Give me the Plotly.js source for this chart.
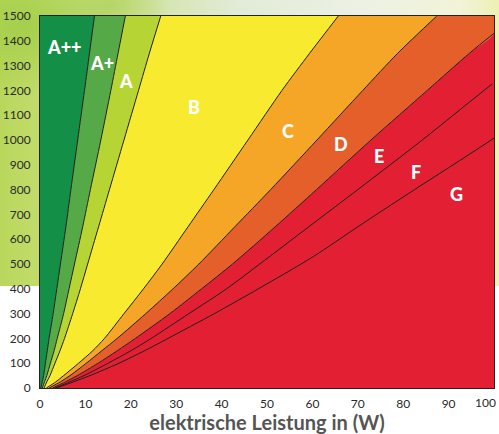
<!DOCTYPE html>
<html>
<head>
<meta charset="utf-8">
<script src="https://cdn.plot.ly/plotly-3.0.1.min.js"></script>
<style>
  html, body { margin: 0; padding: 0; background: #ffffff; }
  #wrap { position: relative; width: 499px; height: 434px; overflow: hidden; }
  #bg {
    position: absolute; left: 0; top: 0; width: 499px; height: 286px;
    background:
      radial-gradient(ellipse 90px 70px at 25px 25px, rgba(160,205,70,0.85), rgba(160,205,70,0)),
      radial-gradient(ellipse 60px 40px at 110px 5px, rgba(175,210,90,0.8), rgba(175,210,90,0)),
      linear-gradient(to right, #b9d75c 0px, #c2dc6a 40px, #d2e4a4 140px, #e2ebd8 240px, #ecf1e4 360px, #f2f3d8 460px, #eef0b4 499px);
  }
  #chart { position: absolute; left: 0; top: 0; width: 499px; height: 434px; }
</style>
</head>
<body>
<div id="wrap">
  <div id="bg"></div>
  <div id="chart"></div>
</div>
<script>
// Light output (lumen) levels at which the class boundaries were read
const lumen   = [0, 25, 50, 100, 150, 200, 300, 400, 500, 650, 800, 1000, 1200, 1350, 1500];
// Boundary A++ | A+  (W)
const bAppAp  = [0.2, 0.5, 0.8, 1.2, 1.6, 2.0, 2.9, 3.7, 4.5, 5.7, 6.8, 8.3, 9.8, 10.9, 12.0];
// Boundary A+ | A
const bApA    = [0.5, 1.0, 1.5, 2.3, 3.1, 3.8, 5.2, 6.4, 7.6, 9.4, 11.1, 13.4, 15.6, 17.2, 18.8];
// Boundary A | B
const bAB     = [0.9, 1.5, 2.2, 3.3, 4.4, 5.4, 7.2, 8.9, 10.5, 12.9, 15.3, 18.5, 21.7, 24.1, 26.6];
// Boundary B | C
const bBC     = [1.4, 3.5, 5.2, 8.5, 11.6, 14.2, 18.5, 22.8, 26.9, 32.6, 38.3, 45.8, 53.3, 59.4, 65.7];
// Boundary C | D
const bCD     = [2.0, 4.5, 6.6, 10.2, 13.6, 17.0, 23.3, 29.3, 35.0, 42.9, 50.8, 61.0, 71.1, 78.8, 87.4];
// Boundary D | E (ends at right edge)
const lumenDE = [0, 25, 50, 100, 150, 200, 300, 400, 500, 650, 800, 1000, 1200, 1350, 1430];
const bDE     = [2.8, 5.6, 8.2, 12.8, 17.0, 21.0, 28.6, 35.6, 42.4, 51.8, 60.9, 72.9, 85.3, 94.6, 100];
// Boundary E | F
const lumenEF = [0, 25, 50, 100, 150, 200, 300, 400, 500, 650, 800, 1000, 1150, 1226];
const bEF     = [3.3, 6.6, 9.7, 15.0, 20.0, 24.5, 32.8, 41.1, 48.4, 59.2, 70.0, 84.2, 94.4, 99.6];
// Boundary F | G
const lumenFG = [0, 25, 50, 100, 150, 200, 300, 400, 530, 650, 800, 900, 1007];
const bFG     = [3.6, 7.4, 11.0, 17.4, 23.0, 28.2, 38.4, 48.1, 60.2, 70.0, 82.5, 91.0, 100];

// Class labels
const classNames = ['A++', 'A+', 'A', 'B', 'C', 'D', 'E', 'F', 'G'];
const labelW     = [5.4, 13.6, 19.0, 33.9, 54.6, 66.4, 74.7, 82.9, 91.8];
const labelLm    = [1376, 1312, 1239, 1134, 1037, 984, 937, 872, 781];

// Tick labels
const xTicks = [0, 10, 20, 30, 40, 50, 60, 70, 80, 90];
const xLastTick = 100;
const yTicks = [0, 100, 200, 300, 400, 500, 600, 700, 800, 900, 1000, 1100, 1200, 1300, 1400, 1500];
const xTitle = 'elektrische Leistung in (W)';

const X_MIN = 0, X_MAX = 100, Y_MIN = 0, Y_MAX = 1500;

const colors = {
  App: '#138f47', Ap: '#56a947', A: '#b7d435', B: '#f8eb2f',
  C: '#f5a626', D: '#e55f2b', red: '#e21f33', line: '#1f1f1f'
};
const tickFont = { family: 'Lato, sans-serif', size: 12, color: '#2a2a2a' };

function fillTrace(xs, ys, mode, color) {
  return {
    type: 'scatter', mode: 'lines', hoverinfo: 'skip', showlegend: false,
    x: xs, y: ys, fill: mode, fillcolor: color,
    line: { width: 0, color: color, shape: 'spline', smoothing: 0.8 }
  };
}
function boundary(xs, ys) {
  return {
    type: 'scatter', mode: 'lines', hoverinfo: 'skip', showlegend: false,
    x: xs, y: ys, line: { width: 1, color: colors.line, shape: 'spline', smoothing: 0.8 }
  };
}

const traces = [
  fillTrace(bAppAp, lumen, 'tozerox', colors.App),
  fillTrace(bApA, lumen, 'tonextx', colors.Ap),
  fillTrace(bAB, lumen, 'tonextx', colors.A),
  fillTrace(bBC, lumen, 'tonextx', colors.B),
  fillTrace(bCD, lumen, 'tonextx', colors.C),
  fillTrace(bDE.concat([X_MAX]), lumenDE.concat([Y_MAX]), 'tonextx', colors.D),
  fillTrace([X_MAX, X_MAX], [Y_MIN, Y_MAX], 'tonextx', colors.red),
  boundary(bAppAp, lumen),
  boundary(bApA, lumen),
  boundary(bAB, lumen),
  boundary(bBC, lumen),
  boundary(bCD, lumen),
  boundary(bDE, lumenDE),
  boundary(bEF, lumenEF),
  boundary(bFG, lumenFG)
];

const annotations = classNames.map((t, i) => ({
  x: labelW[i], y: labelLm[i], xref: 'x', yref: 'y', text: t, showarrow: false,
  font: { family: 'Lato, sans-serif', size: 18, color: '#ffffff', weight: 900 }
}));
// last x tick label, kept inside the picture like in the reference
annotations.push({
  x: xLastTick, y: 0, xref: 'x', yref: 'paper', text: String(xLastTick),
  showarrow: false, xanchor: 'right', yanchor: 'top', xshift: 4, yshift: -5,
  font: tickFont
});

const layout = {
  width: 499, height: 434,
  margin: { l: 40, r: 5, t: 16, b: 46 },
  paper_bgcolor: 'rgba(0,0,0,0)',
  plot_bgcolor: 'rgba(0,0,0,0)',
  showlegend: false,
  xaxis: {
    range: [X_MIN, X_MAX], tickvals: xTicks, ticktext: xTicks.map(String),
    showgrid: false, zeroline: false, showline: true, mirror: true,
    linecolor: '#222', linewidth: 1, ticks: '', ticklabelstandoff: 5,
    tickfont: tickFont,
    title: { text: xTitle, standoff: 12,
      font: { family: 'Lato, sans-serif', size: 20, color: '#555', weight: 'bold' } }
  },
  yaxis: {
    range: [Y_MIN, Y_MAX], tickvals: yTicks, ticktext: yTicks.map(String),
    showgrid: false, zeroline: false, showline: true, mirror: true,
    linecolor: '#222', linewidth: 1, ticks: '', ticklabelstandoff: 6,
    tickfont: tickFont
  },
  annotations: annotations
};

Plotly.newPlot('chart', traces, layout, { staticPlot: true, displayModeBar: false });
</script>
</body>
</html>
